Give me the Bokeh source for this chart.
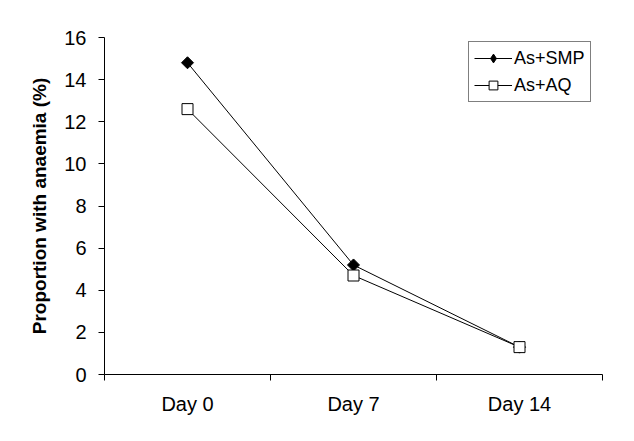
import numpy as np
from bokeh.plotting import figure
from bokeh.models import FixedTicker, Range1d, Legend, LegendItem
from bokeh.embed import file_html
from bokeh.resources import INLINE

days = ["Day 0", "Day 7", "Day 14"]
smp = [14.8, 5.2, 1.3]
aq = [12.6, 4.7, 1.3]
y_ticks = [0, 2, 4, 6, 8, 10, 12, 14, 16]

xpos = [i + 0.5 for i in range(len(days))]

p = figure(width=618, height=425, output_backend="svg", toolbar_location=None,
           x_range=Range1d(0, len(days)), y_range=Range1d(0, 16),
           min_border_left=104, min_border_right=16, min_border_top=37, min_border_bottom=51)
p.outline_line_color = None
p.xgrid.visible = False
p.ygrid.visible = False
p.background_fill_color = "white"
p.border_fill_color = "white"

FONT = "Liberation Sans"

# x axis
p.xaxis.ticker = FixedTicker(ticks=xpos, minor_ticks=list(range(len(days) + 1)))
p.xaxis.major_label_overrides = {x: d for x, d in zip(xpos, days)}
p.xaxis.major_tick_line_color = None
p.xaxis.minor_tick_out = 6
p.xaxis.minor_tick_in = 0
p.xaxis.minor_tick_line_color = "black"
p.xaxis.major_label_standoff = 12
p.xaxis.major_label_text_font = FONT
p.xaxis.major_label_text_font_size = "20px"
p.xaxis.major_label_text_color = "black"
p.xaxis.axis_line_color = "black"

# y axis
p.yaxis.ticker = FixedTicker(ticks=y_ticks, minor_ticks=[])
p.yaxis.major_tick_out = 6
p.yaxis.major_tick_in = 0
p.yaxis.major_tick_line_color = "black"
p.yaxis.major_label_standoff = 12
p.yaxis.major_label_text_font = FONT
p.yaxis.major_label_text_font_size = "20px"
p.yaxis.major_label_text_color = "black"
p.yaxis.axis_line_color = "black"
p.yaxis.axis_label = "Proportion with anaemia (%)"
p.yaxis.axis_label_text_font = FONT
p.yaxis.axis_label_text_font_size = "19px"
p.yaxis.axis_label_text_font_style = "bold"
p.yaxis.axis_label_text_color = "black"
p.yaxis.axis_label_standoff = 11

l1 = p.line(xpos, smp, line_color="black", line_width=1)
m1 = p.scatter(xpos, smp, marker="square", angle=np.pi / 4, size=8.5,
               fill_color="black", line_color="black")
# legend glyph for the diamond (drawn hidden inside the rotated squares)
d1 = p.scatter(xpos, smp, marker="diamond", size=9, fill_color="black", line_color="black")
l2 = p.line(xpos, aq, line_color="black", line_width=1)
m2 = p.scatter(xpos, aq, marker="square", size=11, fill_color="white", line_color="black")

legend = Legend(items=[LegendItem(label="As+SMP", renderers=[l1, d1]),
                       LegendItem(label="As+AQ", renderers=[l2, m2])],
                location=(364, 272))
legend.border_line_color = "black"
legend.border_line_width = 1
legend.background_fill_color = "white"
legend.label_text_font = FONT
legend.label_text_font_size = "18px"
legend.label_text_color = "black"
legend.glyph_width = 38
legend.glyph_height = 22
legend.label_standoff = 2
legend.spacing = 5
legend.padding = 5
legend.margin = 0
p.add_layout(legend)

open("out.html", "w").write(file_html(p, INLINE))
